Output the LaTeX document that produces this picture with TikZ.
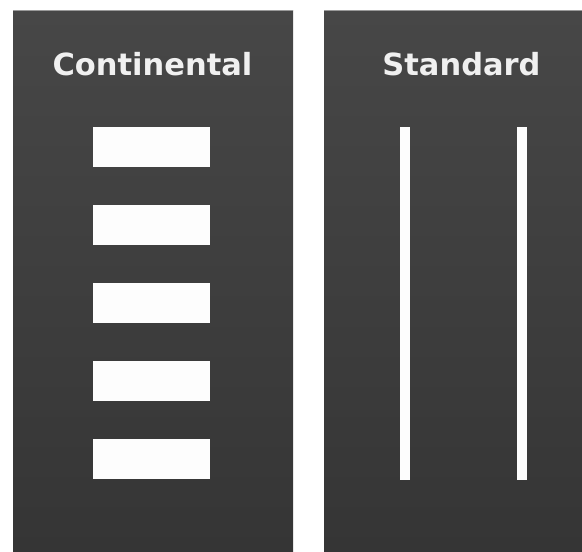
\documentclass[tikz,border=0pt]{standalone}
\usepackage{fontspec}
\setmainfont{DejaVu Sans}
\usepackage{tikz}
\usetikzlibrary{positioning}

\definecolor{paneltop}{HTML}{474747}
\definecolor{panelbot}{HTML}{353535}
\definecolor{paneledge}{HTML}{9A9A9A}
\definecolor{marking}{HTML}{FDFDFD}

\tikzset{
  panel/.style={top color=paneltop, bottom color=panelbot},
  title/.style={anchor=base, text=marking!95!black, font=\bfseries\fontsize{30.5}{36}\selectfont, inner sep=0pt},
  stripe/.style={fill=marking, draw=none},
}

\begin{document}
\begin{tikzpicture}[x=1pt, y=-1pt]
\useasboundingbox (0,0) rectangle (582,552);

% パネル
\foreach \xa/\xb in {13/293, 324/582} {
  \shade[panel] (\xa,10) rectangle (\xb,552);
  \draw[paneledge, line width=1pt] (\xa,10.5) -- (\xb,10.5);
}

% タイトル
\node[title] (continental) at (152.5,75) {Continental};
\node[title] (standard) at (461.5,75) {Standard};

% 縞模様 (Continental)
\foreach \k in {0,...,4} {
  \fill[stripe] (93,127+78*\k) rectangle (210,167+78*\k);
}

% 縦線 (Standard)
\foreach \x in {400, 517} {
  \fill[stripe] (\x,127) rectangle (\x+9.5,480);
}

\end{tikzpicture}
\end{document}
